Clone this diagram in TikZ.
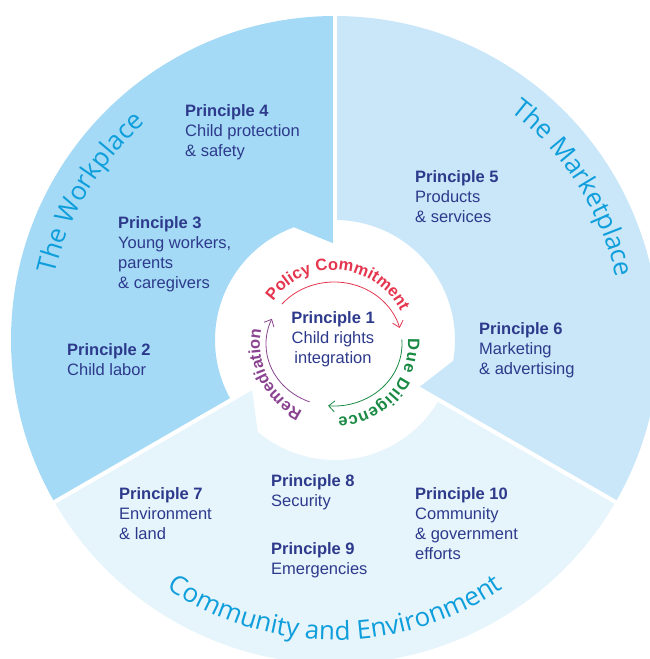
\documentclass[tikz,border=0pt]{standalone}
\usepackage{fontspec}
\usepackage{xcolor}
\usetikzlibrary{decorations.text,arrows.meta}
\setmainfont{Liberation Sans}
\newfontfamily\labfont{Open Sans}

\definecolor{workblue}{HTML}{A4DAF6}
\definecolor{marketblue}{HTML}{C9E7F8}
\definecolor{commblue}{HTML}{E6F4FC}
\definecolor{labelcyan}{HTML}{0E9EDB}
\definecolor{textnavy}{HTML}{2D3A8C}
\definecolor{policyred}{HTML}{E5364F}
\definecolor{diligreen}{HTML}{198A43}
\definecolor{remepurple}{HTML}{8A4390}

\newcommand{\areafont}{\labfont\fontsize{26}{26}\selectfont\color{labelcyan}}
\newcommand{\ringfont}{\bfseries\fontsize{16.5}{16.5}\selectfont}

\begin{document}
\begin{tikzpicture}[x=1pt,y=1pt,
    principle/.style={anchor=north west, inner sep=0pt, align=left,
      text=textnavy, font=\fontsize{16.5}{20}\selectfont},
    ringarrow/.style={line width=0.8pt, -{Straight Barb[length=6pt,width=11pt]}}]
    \useasboundingbox (0,0) rectangle (650,-659);

    % The wheel with its three areas
    \begin{scope}[shift={(335,-340)}]
        \fill[workblue] (90:96) -- (90:324) arc[start angle=90, end angle=210, radius=324pt]
            -- (210:120) arc[start angle=210, end angle=110, radius=120pt] -- cycle;
        \fill[commblue] (210:96) -- (210:324) arc[start angle=210, end angle=330, radius=324pt]
            -- (330:120) arc[start angle=330, end angle=230, radius=120pt] -- cycle;
        \fill[marketblue] (-30:96) -- (-30:324) arc[start angle=-30, end angle=90, radius=324pt]
            -- (90:120) arc[start angle=90, end angle=-10, radius=120pt] -- cycle;

        % White gaps between the areas
        \foreach \a in {90,210,330}
            \draw[white, line width=4pt] (\a:90) -- (\a:330);

        % Area names along the rim
        \path[decorate, decoration={text along path, text align=center,
            text={|\areafont|The Workplace}}]
            (170:288) arc[start angle=170, end angle=128, radius=288pt];
        \path[decorate, decoration={text along path, text align=center,
            text={|\areafont|The Marketplace}}]
            (54:288) arc[start angle=54, end angle=11, radius=288pt];
        \path[decorate, decoration={text along path, text align=center,
            text={|\areafont|Community and Environment}}]
            (232:300) arc[start angle=232, end angle=308, radius=300pt];
    \end{scope}

    % Inner cycle of arrows
    \begin{scope}[shift={(334,-344)}]
        \draw[policyred, ringarrow] (140:68pt and 62pt)
            arc[start angle=140, end angle=15, x radius=68pt, y radius=62pt];
        \draw[diligreen, ringarrow] (4:68pt and 62pt)
            arc[start angle=4, end angle=-95, x radius=68pt, y radius=62pt];
        \draw[remepurple, ringarrow] (249:68pt and 62pt)
            arc[start angle=249, end angle=156, x radius=68pt, y radius=62pt];

        \path[decorate, decoration={text along path, text align=fit to path,
            text={|\ringfont\color{policyred}|Policy Commitment}}]
            (145:74) arc[start angle=145, end angle=27, radius=74pt];
        \path[decorate, decoration={text along path, text align=fit to path,
            text={|\ringfont\color{diligreen}|Due Diligence}}]
            (4:74) arc[start angle=4, end angle=-87, radius=74pt];
        \path[decorate, decoration={text along path, text align=fit to path,
            text={|\ringfont\color{remepurple}|Remediation}}]
            (245:74) arc[start angle=245, end angle=169, radius=74pt];
    \end{scope}

    % Principles
    \node[principle, anchor=north, align=center] (p1) at (333,-311)
        {\textbf{Principle 1}\\Child rights\\integration};
    \node[principle] (p2) at (67,-343) {\textbf{Principle 2}\\Child labor};
    \node[principle] (p3) at (118,-216)
        {\textbf{Principle 3}\\Young workers,\\parents\\\& caregivers};
    \node[principle] (p4) at (185,-104)
        {\textbf{Principle 4}\\Child protection\\\& safety};
    \node[principle] (p5) at (415,-170) {\textbf{Principle 5}\\Products\\\& services};
    \node[principle] (p6) at (479,-322)
        {\textbf{Principle 6}\\Marketing\\\& advertising};
    \node[principle] (p7) at (119,-487) {\textbf{Principle 7}\\Environment\\\& land};
    \node[principle] (p8) at (271,-474) {\textbf{Principle 8}\\Security};
    \node[principle] (p9) at (271,-542) {\textbf{Principle 9}\\Emergencies};
    \node[principle] (p10) at (415,-487)
        {\textbf{Principle 10}\\Community\\\& government\\efforts};
\end{tikzpicture}
\end{document}
